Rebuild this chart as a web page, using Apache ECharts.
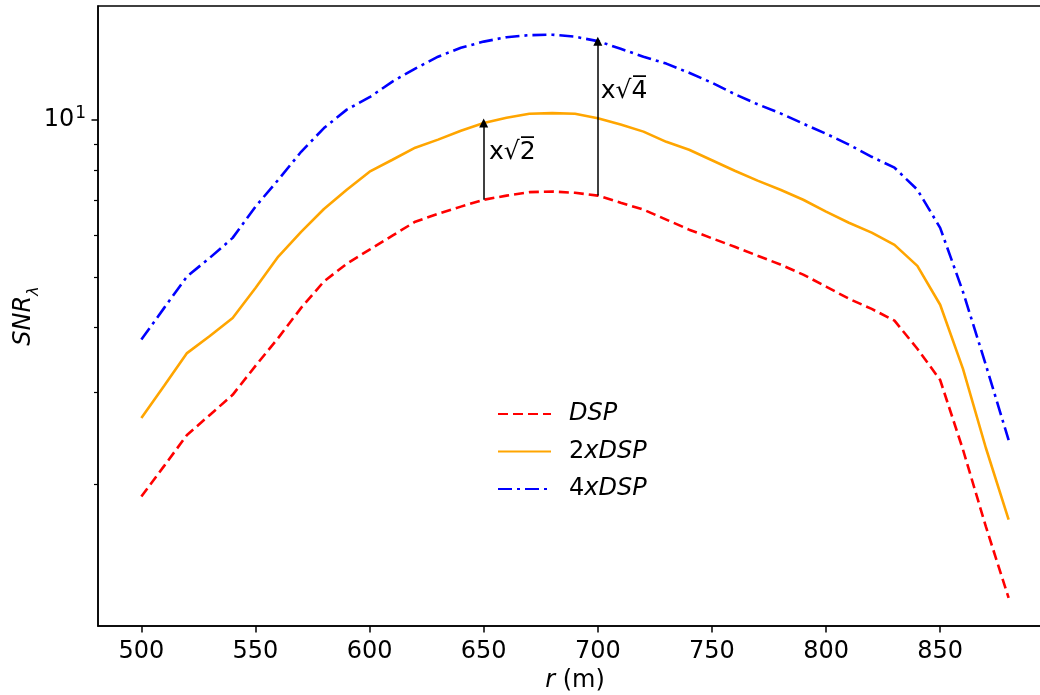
<!DOCTYPE html>
<html>
<head>
<meta charset="utf-8">
<script src="https://cdn.jsdelivr.net/npm/echarts@6/dist/echarts.min.js"></script>
<style>
html,body{margin:0;padding:0;background:#fff;}
#chart{width:1040px;height:695px;}
</style>
</head>
<body>
<div id="chart"></div>
<script>
const r = [500,510,520,530,540,550,560,570,580,590,600,610,620,630,640,650,660,670,680,690,700,710,720,730,740,750,760,770,780,790,800,810,820,830,840,850,860,870,880];
const dsp = [1.894,2.169,2.487,2.717,2.969,3.375,3.819,4.36,4.90,5.30,5.64,6.00,6.38,6.61,6.82,7.03,7.16,7.27,7.29,7.25,7.16,6.94,6.73,6.44,6.16,5.93,5.71,5.49,5.28,5.05,4.79,4.54,4.34,4.12,3.64,3.17,2.33,1.66,1.21];
const dsp2 = [2.68,3.09,3.57,3.85,4.17,4.76,5.47,6.10,6.75,7.35,7.96,8.39,8.85,9.17,9.54,9.87,10.10,10.28,10.31,10.28,10.08,9.80,9.50,9.08,8.77,8.37,7.99,7.65,7.35,7.03,6.67,6.35,6.08,5.76,5.25,4.42,3.33,2.35,1.71];
const dsp4 = [3.79,4.36,5.01,5.44,5.94,6.82,7.68,8.69,9.65,10.47,11.06,11.85,12.55,13.23,13.76,14.14,14.42,14.55,14.58,14.45,14.17,13.70,13.23,12.83,12.32,11.79,11.21,10.72,10.30,9.84,9.41,8.97,8.50,8.10,7.35,6.21,4.68,3.39,2.43];
const seriesNames = ['DSP','2xDSP','4xDSP'];
const xTicks = [500,550,600,650,700,750,800,850];
const yMinorTicks = [2,3,4,5,6,7,8,9];
const yMajorTicks = [10];
const arrow1X = 650, arrow2X = 700;
const arrow1Label = 'x\u221A2\u0305';
const arrow2Label = 'x\u221A4\u0305';

const FONT = 'DejaVu Sans';
const idx = x => r.indexOf(x);
const pairs = ys => r.map((x, i) => [x, ys[i]]);

const chart = echarts.init(document.getElementById('chart'), null, {renderer: 'canvas'});
const yBase = {
  type: 'log', logBase: 10, min: 1.069, max: 16.55,
  splitLine: {show: false}, minorTick: {show: false}
};
const option = {
  animation: false,
  backgroundColor: '#fff',
  textStyle: {fontFamily: FONT},
  grid: {left: 98, top: 6, width: 954, height: 620, outerBoundsMode: 'none', containLabel: false,
    show: true, borderColor: '#000', borderWidth: 1.5, backgroundColor: 'transparent'},
  xAxis: {
    type: 'value', min: 481, max: 899,
    axisLine: {show: true, lineStyle: {color: '#000', width: 1.5}},
    axisTick: {show: true, length: 6.5, lineStyle: {color: '#000', width: 1.5}, customValues: xTicks},
    axisLabel: {fontSize: 24, color: '#000', fontFamily: FONT, margin: 14, customValues: xTicks},
    splitLine: {show: false},
    name: '{i|r} (m)', nameLocation: 'middle', nameGap: 40,
    nameTextStyle: {fontSize: 24, color: '#000', fontFamily: FONT, rich: {i: {fontStyle: 'italic', fontSize: 24, fontFamily: FONT, color: '#000'}}}
  },
  yAxis: [
    Object.assign({}, yBase, {
      axisLine: {show: true, lineStyle: {color: '#000', width: 1.5}},
      axisTick: {show: true, length: 4, lineStyle: {color: '#000', width: 1.2}, customValues: yMinorTicks},
      axisLabel: {show: false},
      name: '{i|SNR}{s|\u03BB}', nameLocation: 'middle', nameGap: 62, nameRotate: 90,
      nameTextStyle: {color: '#000', fontFamily: FONT, fontSize: 24,
        rich: {i: {fontStyle: 'italic', fontSize: 24, fontFamily: FONT, color: '#000', verticalAlign: 'bottom'},
               s: {fontStyle: 'italic', fontSize: 16, fontFamily: FONT, color: '#000', verticalAlign: 'bottom', padding: [0,0,-6,0]}}}
    }),
    Object.assign({}, yBase, {
      position: 'left',
      axisLine: {show: false},
      axisTick: {show: true, length: 6.5, lineStyle: {color: '#000', width: 1.5}, customValues: yMajorTicks},
      axisLabel: {show: true, margin: 12, customValues: yMajorTicks, color: '#000', fontSize: 24, fontFamily: FONT,
        formatter: v => '10{sup|1}',
        rich: {sup: {fontSize: 17, fontFamily: FONT, color: '#000', verticalAlign: 'top', padding: [0,0,12,1]}}}
    })
  ],
  legend: {
    orient: 'vertical', left: 492, top: 397,
    itemWidth: 53, itemHeight: 24, itemGap: 13.5,
    data: seriesNames,
    itemStyle: {opacity: 0, borderWidth: 0},
    formatter: n => n.replace(/^(\d)/, '{n|$1}'),
    textStyle: {fontSize: 24, fontStyle: 'italic', color: '#000', fontFamily: FONT, lineHeight: 24, padding: [0,0,0,13],
      rich: {n: {fontStyle: 'normal', fontSize: 24, fontFamily: FONT, color: '#000'}}}
  },
  series: [
    {
      name: seriesNames[0], type: 'line', data: pairs(dsp), symbol: 'none', showSymbol: false,
      lineStyle: {color: '#ff0000', width: 2.6, type: [10, 5]}, itemStyle: {color: '#ff0000'}, z: 3,
      markLine: {
        silent: true, symbol: ['none', 'triangle'], symbolSize: [9, 9], animation: false,
        lineStyle: {color: '#000', width: 1.5, type: 'solid'}, label: {show: false},
        data: [
          [{coord: [arrow1X, dsp[idx(arrow1X)]]}, {coord: [arrow1X, dsp2[idx(arrow1X)]]}],
          [{coord: [arrow2X, dsp[idx(arrow2X)]]}, {coord: [arrow2X, dsp4[idx(arrow2X)]]}]
        ]
      },
      markPoint: {
        silent: true, symbol: 'circle', symbolSize: 0, animation: false,
        label: {show: true, position: 'inside', color: '#000', fontSize: 25, fontFamily: FONT},
        data: [
          {coord: [662.5, 8.65], label: {formatter: arrow1Label}},
          {coord: [711.5, 11.33], label: {formatter: arrow2Label}}
        ]
      }
    },
    {
      name: seriesNames[1], type: 'line', data: pairs(dsp2), symbol: 'none', showSymbol: false,
      lineStyle: {color: '#ffa500', width: 2.6, type: 'solid'}, itemStyle: {color: '#ffa500'}, z: 2
    },
    {
      name: seriesNames[2], type: 'line', data: pairs(dsp4), symbol: 'none', showSymbol: false,
      lineStyle: {color: '#0000ff', width: 2.6, type: [14, 5, 3, 5]}, itemStyle: {color: '#0000ff'}, z: 2
    }
  ]
};
chart.setOption(option);
</script>
</body>
</html>
